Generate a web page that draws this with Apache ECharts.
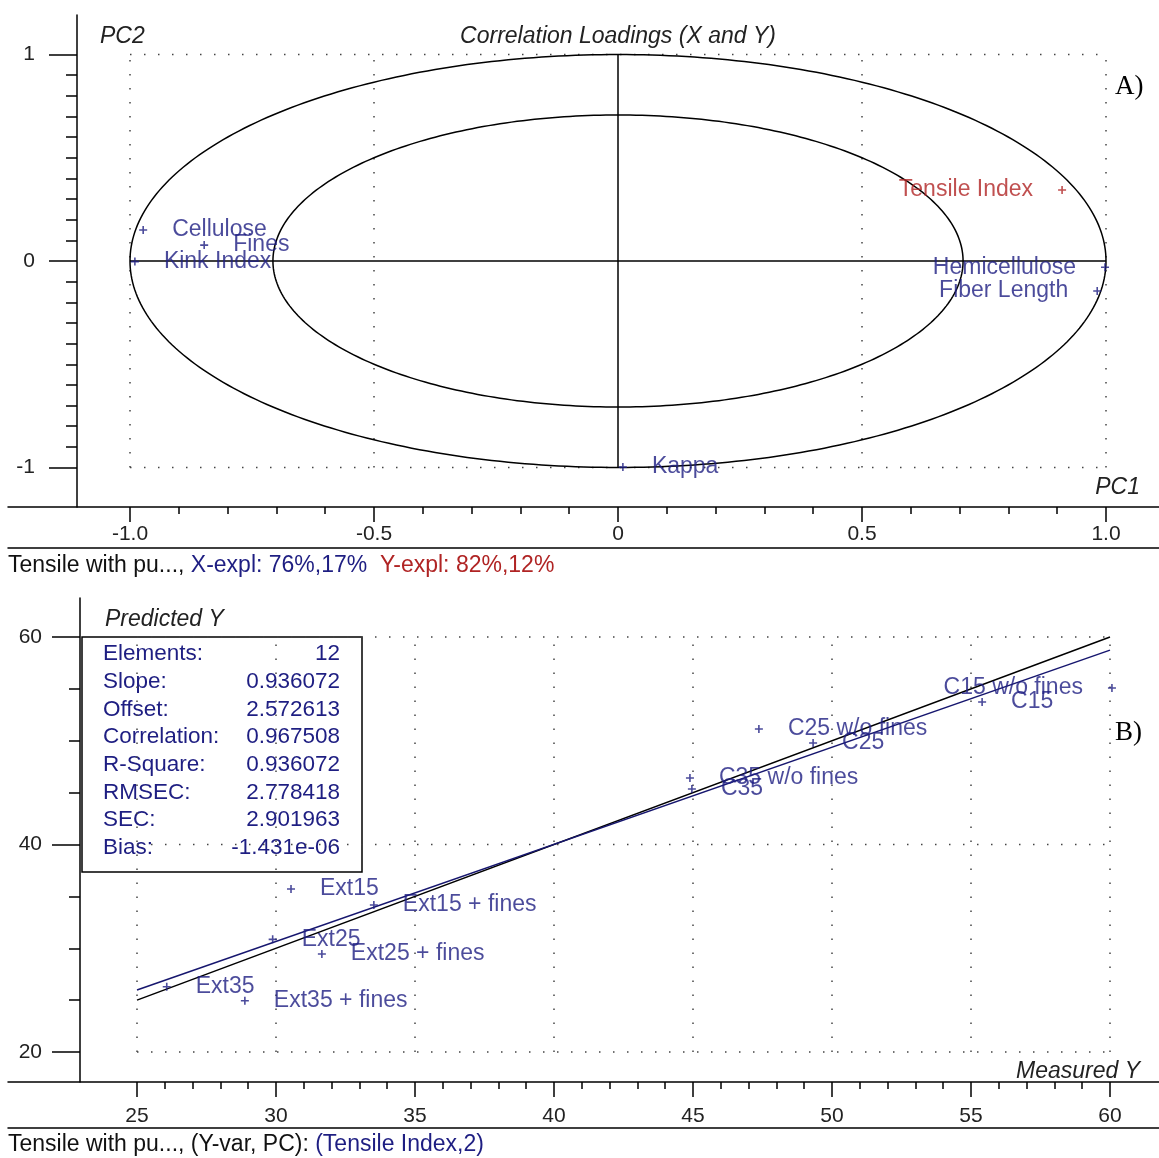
<!DOCTYPE html>
<html>
<head>
<meta charset="utf-8">
<script src="https://cdn.jsdelivr.net/npm/echarts@6/dist/echarts.min.js"></script>
<style>
html, body { margin: 0; padding: 0; background: #fff; }
#c { width: 1159px; height: 1158px; }
</style>
</head>
<body>
<div id="c"></div>
<script>
// ---- Correlation loadings (PC1 / PC2) ----
const loadingNames = ['Cellulose', 'Fines', 'Kink Index', 'Tensile Index', 'Hemicellulose', 'Fiber Length', 'Kappa'];
const loadingPC1 = [-0.973, -0.848, -0.990, 0.910, 0.998, 0.982, 0.010];
const loadingPC2 = [0.150, 0.077, -0.003, 0.344, -0.030, -0.145, -0.998];
const loadingIsY = [false, false, false, true, false, false, false];
const loadingLabelSide = ['right', 'right', 'right', 'left', 'left', 'left', 'right'];
const circleRadii = [1, 0.7071];

// ---- Predicted vs measured Tensile Index ----
const sampleNames = ['Ext15', 'Ext15 + fines', 'Ext25', 'Ext25 + fines', 'Ext35', 'Ext35 + fines',
  'C35 w/o fines', 'C35', 'C25 w/o fines', 'C25', 'C15', 'C15 w/o fines'];
const measuredY = [30.54, 33.52, 29.88, 31.65, 26.07, 28.88, 44.89, 44.96, 47.37, 49.32, 55.40, 60.07];
const predictedY = [35.71, 34.17, 30.86, 29.45, 26.29, 24.94, 46.41, 45.35, 51.13, 49.78, 53.73, 55.08];
const sampleLabelSide = ['right', 'right', 'right', 'right', 'right', 'right',
  'right', 'right', 'right', 'right', 'right', 'left'];

const statNames = ['Elements:', 'Slope:', 'Offset:', 'Correlation:', 'R-Square:', 'RMSEC:', 'SEC:', 'Bias:'];
const statValues = ['12', '0.936072', '2.572613', '0.967508', '0.936072', '2.778418', '2.901963', '-1.431e-06'];
const fitSlope = 0.936072;
const fitOffset = 2.572613;
const fitRange = [25, 60];

// ---- Tick labels ----
const topXTicks = [-1, -0.5, 0, 0.5, 1];
const topYTicks = [-1, 0, 1];
const botXTicks = [25, 30, 35, 40, 45, 50, 55, 60];
const botYTicks = [20, 40, 60];

const NAVY = '#1e1e82';
const RED = '#b02424';
const FONT = '"Liberation Sans", Arial, sans-serif';
const SERIF = '"Liberation Serif", "Times New Roman", serif';

function steps(a, b, s) {
  const out = [];
  for (let v = a; v <= b + 1e-9; v += s) out.push(+v.toFixed(4));
  return out;
}

const black = { color: '#000', width: 1.5 };
const dotted = { color: '#444', width: 1.5, type: [1.5, 12.5] };

function lineSeries(points, style, gi, z) {
  return {
    type: 'line', xAxisIndex: gi * 3, yAxisIndex: gi * 2, data: points,
    symbol: 'none', silent: true, animation: false, lineStyle: style, z: z || 2
  };
}

// axis helpers: major ticks + labels, minor ticks, and the frame line under the labels
function xAxes(gi, min, max, major, minor, fmt, margin, frameOffset) {
  return [
    { type: 'value', gridIndex: gi, min, max, position: 'bottom',
      axisLine: { show: true, onZero: false, lineStyle: black },
      axisTick: { show: true, customValues: major, length: 15, lineStyle: black },
      axisLabel: { show: true, customValues: major, formatter: fmt, margin,
        color: '#222', fontSize: 21, fontFamily: FONT },
      splitLine: { show: false } },
    { type: 'value', gridIndex: gi, min, max, position: 'bottom',
      axisLine: { show: false, onZero: false },
      axisTick: { show: true, customValues: minor, length: 7, lineStyle: black },
      axisLabel: { show: false }, splitLine: { show: false } },
    { type: 'value', gridIndex: gi, min, max, position: 'bottom', offset: frameOffset,
      axisLine: { show: true, onZero: false, lineStyle: black },
      axisTick: { show: false }, axisLabel: { show: false }, splitLine: { show: false } }
  ];
}
function yAxes(gi, min, max, major, minor, offset, margin) {
  return [
    { type: 'value', gridIndex: gi, min, max, position: 'left', offset,
      axisLine: { show: true, onZero: false, lineStyle: black },
      axisTick: { show: true, customValues: major, length: 28, lineStyle: black },
      axisLabel: { show: true, customValues: major, margin,
        color: '#222', fontSize: 21, fontFamily: FONT },
      splitLine: { show: false } },
    { type: 'value', gridIndex: gi, min, max, position: 'left', offset,
      axisLine: { show: false, onZero: false },
      axisTick: { show: true, customValues: minor, length: 11, lineStyle: black },
      axisLabel: { show: false }, splitLine: { show: false } }
  ];
}

const plusSymbol = 'path://M2,0H3V2H5V3H3V5H2V3H0V2H2Z';

function pointSeries(gi, xs, ys, names, sides, colors) {
  return {
    type: 'scatter', xAxisIndex: gi * 3, yAxisIndex: gi * 2, z: 5, animation: false,
    symbol: plusSymbol, symbolSize: 8,
    data: xs.map((x, i) => ({
      value: [x, ys[i]], name: names[i],
      itemStyle: { color: colors[i] },
      label: { show: true, position: sides[i], distance: 25, formatter: names[i],
        color: colors[i], fontSize: 23, fontFamily: FONT }
    }))
  };
}

const series = [];

// --- upper panel ---
topXTicks.filter(v => v !== 0).forEach(v => series.push(lineSeries([[v, -1], [v, 1]], dotted, 0, 1)));
[-1, 1].forEach(v => series.push(lineSeries([[-1, v], [1, v]], dotted, 0, 1)));
series.push({
  type: 'custom', xAxisIndex: 0, yAxisIndex: 0, silent: true, animation: false, z: 2,
  data: circleRadii.map(r => [0, 0, r]),
  encode: { x: 0, y: 1 },
  renderItem: function (params, api) {
    const r = api.value(2);
    const pts = [];
    for (let k = 0; k <= 360; k++) {
      const t = k * Math.PI / 180;
      pts.push(api.coord([r * Math.cos(t), r * Math.sin(t)]));
    }
    return { type: 'polyline', shape: { points: pts },
      style: { fill: null, stroke: '#000', lineWidth: 1.5 } };
  }
});
series.push(lineSeries([[-1, 0], [1, 0]], black, 0, 3));
series.push(lineSeries([[0, -1], [0, 1]], black, 0, 3));
series.push(pointSeries(0, loadingPC1, loadingPC2, loadingNames, loadingLabelSide,
  loadingIsY.map(isY => isY ? RED : NAVY)));

// --- lower panel ---
botXTicks.forEach(v => series.push(lineSeries([[v, 20], [v, 60]], dotted, 1, 1)));
botYTicks.forEach(v => series.push(lineSeries([[25, v], [60, v]], dotted, 1, 1)));
series.push(lineSeries([[fitRange[0], fitRange[0]], [fitRange[1], fitRange[1]]], black, 1, 3));
series.push(lineSeries(fitRange.map(x => [x, fitSlope * x + fitOffset]), { color: '#16166e', width: 1.5 }, 1, 3));
series.push(pointSeries(1, measuredY, predictedY, sampleNames, sampleLabelSide,
  sampleNames.map(() => NAVY)));

// --- text, statistics box and panel captions ---
const statTexts = [];
statNames.forEach((n, i) => {
  statTexts.push({ type: 'text', x: 103, y: 654 + i * 27.7,
    style: { text: n, fill: NAVY, font: '22.5px ' + FONT, verticalAlign: 'middle' } });
  statTexts.push({ type: 'text', x: 340, y: 654 + i * 27.7,
    style: { text: statValues[i], fill: NAVY, font: '22.5px ' + FONT, align: 'right', verticalAlign: 'middle' } });
});

const italic = 'italic 23px ' + FONT;
const capFont = '23px ' + FONT;
const graphic = [
  { type: 'text', x: 100, y: 37, style: { text: 'PC2', fill: '#222', font: italic, verticalAlign: 'middle' } },
  { type: 'text', x: 618, y: 37, style: { text: 'Correlation Loadings (X and Y)', fill: '#222', font: italic,
      align: 'center', verticalAlign: 'middle' } },
  { type: 'text', x: 1140, y: 488, style: { text: 'PC1', fill: '#222', font: italic, align: 'right', verticalAlign: 'middle' } },
  { type: 'text', x: 1115, y: 87, style: { text: 'A)', fill: '#000', font: '27px ' + SERIF, verticalAlign: 'middle' } },
  { type: 'text', x: 8, y: 566, style: {
      text: '{k|Tensile with pu..., }{x|X-expl: 76%,17%}  {y|Y-expl: 82%,12%}',
      verticalAlign: 'middle', font: capFont,
      rich: { k: { fill: '#111', font: capFont }, x: { fill: NAVY, font: capFont },
              y: { fill: RED, font: capFont } } } },
  { type: 'text', x: 105, y: 620, style: { text: 'Predicted Y', fill: '#222', font: italic, verticalAlign: 'middle' } },
  { type: 'text', x: 1140, y: 1072, style: { text: 'Measured Y', fill: '#222', font: italic, align: 'right', verticalAlign: 'middle' } },
  { type: 'text', x: 1115, y: 733, style: { text: 'B)', fill: '#000', font: '27px ' + SERIF, verticalAlign: 'middle' } },
  { type: 'group', z: 50, children: [
      { type: 'rect', shape: { x: 82, y: 637, width: 280, height: 235 },
        style: { fill: '#fff', stroke: '#000', lineWidth: 1.5 } }
    ].concat(statTexts) },
  { type: 'text', x: 8, y: 1145, style: {
      text: '{k|Tensile with pu..., (Y-var, PC): }{x|(Tensile Index,2)}',
      verticalAlign: 'middle', font: capFont,
      rich: { k: { fill: '#111', font: capFont }, x: { fill: NAVY, font: capFont } } } }
];

const topFmt = v => (v === 0 ? '0' : v.toFixed(1));
const option = {
  backgroundColor: '#fff',
  animation: false,
  grid: [
    { left: 8, right: 0, top: 15, height: 492 },
    { left: 8, right: 0, top: 598, height: 484 }
  ],
  xAxis: [].concat(
    xAxes(0, (8 - 618) / 488, (1159 - 618) / 488, topXTicks, steps(-1, 1, 0.1), topFmt, 17, 41),
    xAxes(1, 25 - (137 - 8) / 27.8, 25 + (1159 - 137) / 27.8, botXTicks, steps(25, 60, 1), v => String(v), 24, 46)
  ),
  yAxis: [].concat(
    yAxes(0, -(507 - 261) / 206.5, (261 - 15) / 206.5, topYTicks, steps(-1, 1, 0.1), -69, 42),
    yAxes(1, 20 - (1082 - 1052) / 10.375, 20 + (1052 - 598) / 10.375, botYTicks, steps(20, 60, 5), -72, 38)
  ),
  series: series,
  graphic: graphic
};

const chart = echarts.init(document.getElementById('c'));
chart.setOption(option);
</script>
</body>
</html>
